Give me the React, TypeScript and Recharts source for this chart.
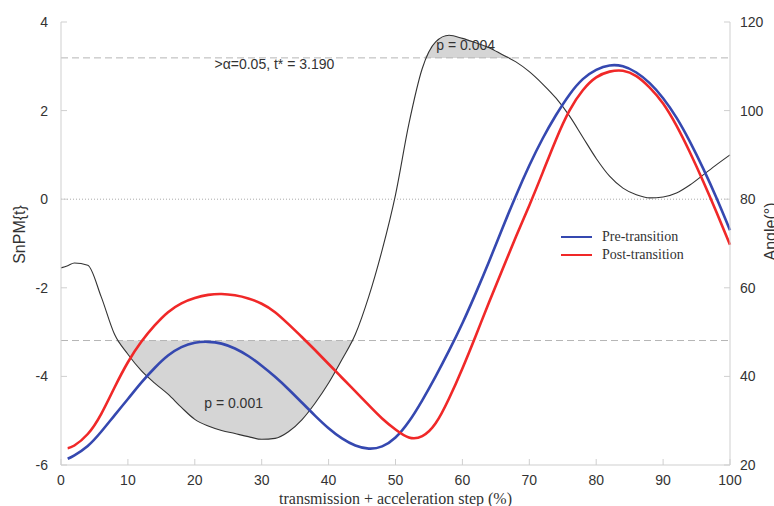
import React from "react";
import {
  ComposedChart,
  Line,
  Area,
  XAxis,
  YAxis,
  ReferenceLine,
  ReferenceDot,
  Legend,
} from "recharts";

// time-normalised step (%)
const pct = [
  0, 1, 2, 4, 6, 8, 10, 12, 14, 16, 18, 20, 22, 24, 26, 28, 30, 32, 34, 36, 38,
  40, 42, 44, 46, 48, 50, 52, 54, 56, 58, 60, 62, 64, 66, 68, 70, 72, 74, 76, 78,
  80, 82, 84, 86, 88, 90, 92, 94, 96, 98, 100,
];

// SnPM{t} statistic
const snpm = [
  -1.55, -1.5, -1.44, -1.49, -2.2, -3.05, -3.5, -3.87, -4.15, -4.4, -4.7,
  -4.97, -5.12, -5.22, -5.29, -5.36, -5.42, -5.4, -5.25, -4.98, -4.6, -4.15,
  -3.62, -3.05, -2.2, -1.15, 0.1, 1.7, 2.95, 3.55, 3.7, 3.63, 3.53, 3.42, 3.26,
  3.1, 2.88, 2.6, 2.28, 1.88, 1.4, 0.92, 0.52, 0.25, 0.1, 0.03, 0.05, 0.14,
  0.32, 0.55, 0.78, 1.0,
];

// joint angle (deg)
const preAngle = [
  null, 21.4, 22.2, 24.3, 27.5, 31.2, 34.9, 38.6, 41.9, 44.7, 46.6, 47.6, 47.8,
  47.4, 46.3, 44.6, 42.4, 39.9, 37.1, 34.1, 31.1, 28.3, 26.0, 24.4, 23.7, 24.2,
  26.2, 29.8, 34.6, 40.0, 45.8, 52.0, 58.8, 66.0, 73.5, 80.8, 87.6, 93.7, 99.0,
  103.6, 107.1, 109.2, 110.2, 110.0, 108.6, 106.2, 102.8, 98.4, 93.0, 86.9,
  80.2, 73.0,
];
const postAngle = [
  null, 23.8, 24.4, 27, 31.5, 37.5, 43.2, 47.8, 51.5, 54.5, 56.5, 57.7, 58.4,
  58.6, 58.3, 57.6, 56.4, 54.5, 51.8, 48.9, 45.9, 42.8, 39.7, 36.6, 33.5, 30.5,
  28.0, 26.2, 26.5, 29.4, 35.0, 41.8, 49.2, 56.8, 64.2, 71.5, 78.6, 86.0, 93.5,
  100.0, 104.6, 107.5, 108.8, 109.0, 107.8, 105.2, 101.6, 96.6, 90.6, 84.0,
  77.0, 69.7,
];

const tCrit = 3.19;
const xTicks = [0, 10, 20, 30, 40, 50, 60, 70, 80, 90, 100];
const leftTicks = [-6, -4, -2, 0, 2, 4];
const rightTicks = [20, 40, 60, 80, 100, 120];
const seriesNames = ["Pre-transition", "Post-transition"];
const clusters = [
  { label: "p = 0.001", x: 25.8, y: -4.6 },
  { label: "p = 0.004", x: 60.5, y: 3.48 },
];

const data = pct.map((x, i) => ({
  x,
  snpm: snpm[i],
  pre: preAngle[i],
  post: postAngle[i],
  lowFill: [Math.min(snpm[i], -tCrit), -tCrit],
  highFill: [tCrit, Math.max(snpm[i], tCrit)],
}));

const SANS = "'Liberation Sans', Arial, Helvetica, sans-serif";
const SERIF = "'Liberation Serif', 'Times New Roman', serif";
const BLUE = "#3548b0";
const RED = "#f02828";
const AXIS = "#cfcfcf";

const tickStyle = { fill: "#333", fontSize: 14, fontFamily: SANS };

const LegendBox = () => (
  <div style={{ fontFamily: SERIF, fontSize: 14, color: "#333" }}>
    {seriesNames.map((name, i) => (
      <div key={name} style={{ display: "flex", alignItems: "center", height: 18 }}>
        <span
          style={{
            display: "inline-block",
            width: 31,
            height: 2,
            background: i === 0 ? BLUE : RED,
            marginRight: 10,
          }}
        />
        {name}
      </div>
    ))}
  </div>
);

export default function App() {
  return (
    <div style={{ position: "absolute", left: 0, top: 0, background: "#fff" }}>
      <ComposedChart
        width={774}
        height={506}
        data={data}
        margin={{ top: 22, right: 0, bottom: 0, left: 0 }}
      >
        <XAxis
          dataKey="x"
          type="number"
          domain={[0, 100]}
          ticks={xTicks}
          height={41}
          tickSize={-6}
          tickMargin={16}
          tick={tickStyle}
          axisLine={{ stroke: AXIS }}
          tickLine={{ stroke: AXIS }}
          label={({ viewBox }: any) => (
            <text
              x={viewBox.x + viewBox.width / 2}
              y={viewBox.y + 33}
              textAnchor="middle"
              dominantBaseline="central"
              fontFamily={SERIF}
              fontSize={16}
              fill="#333"
            >
              transmission + acceleration step (%)
            </text>
          )}
        />
        <YAxis
          yAxisId="left"
          type="number"
          domain={[-6, 4]}
          ticks={leftTicks}
          width={61}
          tickSize={-6}
          tickMargin={19}
          tick={tickStyle}
          axisLine={{ stroke: AXIS }}
          tickLine={{ stroke: AXIS }}
          label={({ viewBox }: any) => {
            const cx = viewBox.x + 19;
            const cy = viewBox.y + viewBox.height / 2 - 9;
            return (
              <text
                x={cx}
                y={cy}
                transform={`rotate(-90 ${cx} ${cy})`}
                textAnchor="middle"
                dominantBaseline="central"
                fontFamily={SANS}
                fontSize={16}
                fill="#333"
              >
                SnPM{"{t}"}
              </text>
            );
          }}
        />
        <YAxis
          yAxisId="right"
          orientation="right"
          type="number"
          domain={[20, 120]}
          ticks={rightTicks}
          width={44}
          tickSize={-6}
          tickMargin={16}
          tick={tickStyle}
          axisLine={{ stroke: AXIS }}
          tickLine={{ stroke: AXIS }}
          label={({ viewBox }: any) => {
            const cx = viewBox.x + 40;
            const cy = viewBox.y + viewBox.height / 2 - 12;
            return (
              <text
                x={cx}
                y={cy}
                transform={`rotate(-90 ${cx} ${cy})`}
                textAnchor="middle"
                dominantBaseline="central"
                fontFamily={SANS}
                fontSize={16}
                fill="#333"
              >
                Angle(°)
              </text>
            );
          }}
        />

        <Area
          yAxisId="left"
          type="monotone"
          dataKey="lowFill"
          stroke="none"
          fill="#d5d5d5"
          fillOpacity={1}
          isAnimationActive={false}
          legendType="none"
        />
        <Area
          yAxisId="left"
          type="monotone"
          dataKey="highFill"
          stroke="none"
          fill="#d5d5d5"
          fillOpacity={1}
          isAnimationActive={false}
          legendType="none"
        />

        <ReferenceLine yAxisId="left" y={0} stroke="#aaa" strokeDasharray="1 2" />
        <ReferenceLine yAxisId="left" y={tCrit} stroke="#b5b5b5" strokeDasharray="7 4" />
        <ReferenceLine yAxisId="left" y={-tCrit} stroke="#b5b5b5" strokeDasharray="7 4" />

        <Line
          yAxisId="left"
          type="monotone"
          dataKey="snpm"
          stroke="#333"
          strokeWidth={1.1}
          dot={false}
          isAnimationActive={false}
          legendType="none"
        />
        <Line
          yAxisId="right"
          type="natural"
          dataKey="pre"
          name={seriesNames[0]}
          stroke={BLUE}
          strokeWidth={2.6}
          dot={false}
          connectNulls
          isAnimationActive={false}
        />
        <Line
          yAxisId="right"
          type="natural"
          dataKey="post"
          name={seriesNames[1]}
          stroke={RED}
          strokeWidth={2.6}
          dot={false}
          connectNulls
          isAnimationActive={false}
        />

        <ReferenceDot
          yAxisId="left"
          x={31.9}
          y={3.05}
          r={0}
          fill="none"
          stroke="none"
          label={{
            value: ">α=0.05, t* = 3.190",
            position: "center",
            fill: "#333",
            fontSize: 14,
            fontFamily: SANS,
          }}
        />
        {clusters.map((c) => (
          <ReferenceDot
            key={c.label}
            yAxisId="left"
            x={c.x}
            y={c.y}
            r={0}
            fill="none"
            stroke="none"
            label={{
              value: c.label,
              position: "center",
              fill: "#333",
              fontSize: 14,
              fontFamily: SANS,
            }}
          />
        ))}

        <Legend
          layout="vertical"
          align="center"
          verticalAlign="middle"
          content={<LegendBox />}
          wrapperStyle={{ position: "absolute", left: 561, top: 228, width: 160 }}
        />
      </ComposedChart>
    </div>
  );
}
